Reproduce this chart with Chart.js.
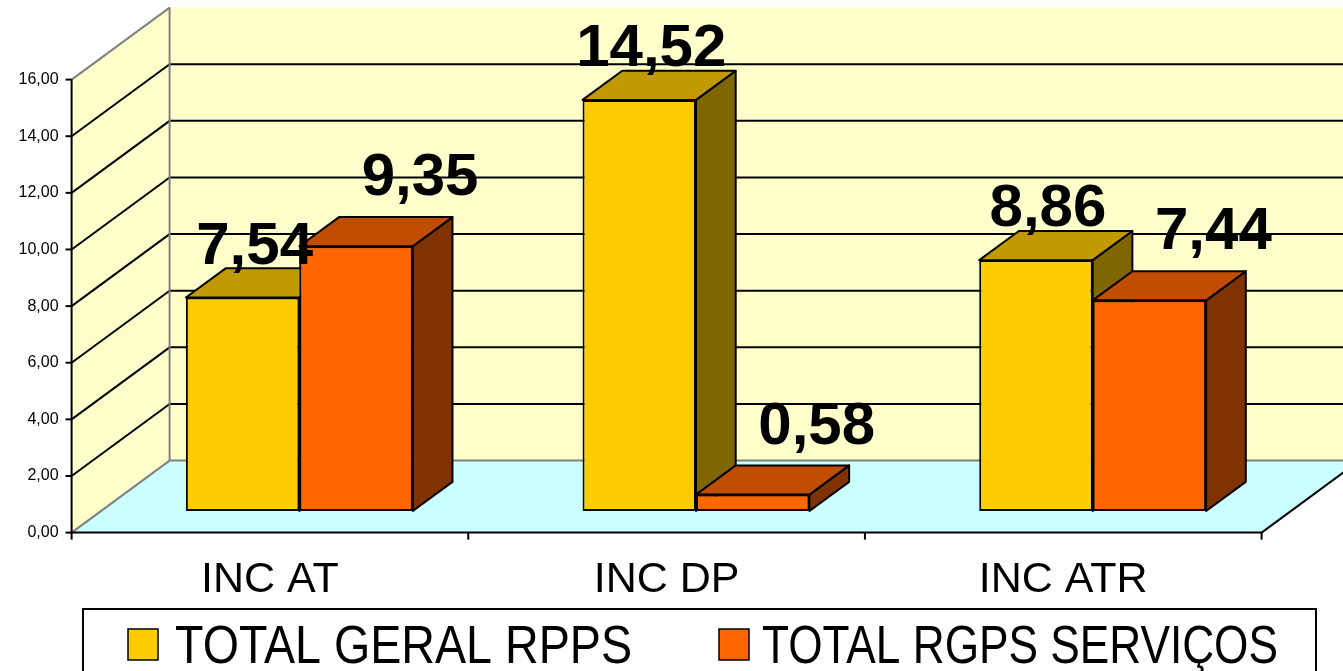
<!DOCTYPE html>
<html>
<head>
<meta charset="utf-8">
<script src="https://cdn.jsdelivr.net/npm/chart.js@4.4.1/dist/chart.umd.min.js"></script>
<style>
  html, body { margin: 0; padding: 0; background: #fff; overflow: hidden; }
</style>
</head>
<body>
<canvas id="chart" width="1343" height="671"></canvas>
<script>
const categories = ["INC AT", "INC DP", "INC ATR"];
const seriesNames = ["TOTAL GERAL RPPS", "TOTAL RGPS SERVIÇOS"];
const rppsValues = [7.54, 14.52, 8.86];
const rgpsValues = [9.35, 0.58, 7.44];
const yTicks = [0, 2, 4, 6, 8, 10, 12, 14, 16];

// 3d look: full depth vector, bars sit at depth 0.3 .. 0.705
const DX = 98, DY = -72;
const BAR_DEPTH = 0.3, BAR_THICK = 0.405;
const FONT = '"Liberation Sans", Arial, sans-serif';

const faces = [
  { front: "#FFCC00", top: "#C09A00", side: "#806600", lx: 12, ly: -34 },
  { front: "#FF6600", top: "#C04D00", side: "#803300", lx: 64, ly: -51 },
];

function fmt(v) {
  return v.toFixed(2).replace(".", ",");
}

function poly(ctx, pts, fill, stroke, lw) {
  ctx.beginPath();
  ctx.moveTo(pts[0][0], pts[0][1]);
  for (let i = 1; i < pts.length; i++) ctx.lineTo(pts[i][0], pts[i][1]);
  ctx.closePath();
  if (fill) {
    ctx.fillStyle = fill;
    ctx.fill();
  }
  if (stroke) {
    ctx.strokeStyle = stroke;
    ctx.lineWidth = lw || 2;
    ctx.stroke();
  }
}

function line(ctx, x1, y1, x2, y2, color, lw) {
  ctx.beginPath();
  ctx.moveTo(x1, y1);
  ctx.lineTo(x2, y2);
  ctx.strokeStyle = color;
  ctx.lineWidth = lw;
  ctx.stroke();
}

function drawFaces(ctx, meta, f) {
  const ddx = BAR_THICK * DX, ddy = BAR_THICK * DY;
  ctx.save();
  ctx.lineJoin = "round";
  meta.data.forEach((el) => {
    const p = el.getProps(["x", "y", "base", "width"], true);
    const l = p.x - p.width / 2, r = p.x + p.width / 2;
    poly(ctx, [[r, p.y], [r + ddx, p.y + ddy], [r + ddx, p.base + ddy], [r, p.base]], f.side, "#000", 2);
    poly(ctx, [[l, p.y], [r, p.y], [r + ddx, p.y + ddy], [l + ddx, p.y + ddy]], f.top, "#000", 2);
  });
  ctx.restore();
}

const box3d = {
  id: "box3d",
  beforeDraw(chart) {
    const ctx = chart.ctx;
    ctx.save();
    ctx.fillStyle = "#fff";
    ctx.fillRect(0, 0, chart.width, chart.height);
    ctx.restore();
  },
  beforeDatasetsDraw(chart) {
    const ctx = chart.ctx;
    const xs = chart.scales.x, ys = chart.scales.y;
    // front plane and back plane offsets from the bar plane
    const fx = -BAR_DEPTH * DX, fy = -BAR_DEPTH * DY;
    const bx = (1 - BAR_DEPTH) * DX, by = (1 - BAR_DEPTH) * DY;
    const L = xs.left + fx, R = xs.right + fx;
    const y0 = ys.getPixelForValue(0) + fy;
    const yTop = ys.getPixelForValue(16) + fy;
    const BL = xs.left + bx, BR = xs.right + bx;
    const by0 = ys.getPixelForValue(0) + by;
    const byTop = ys.getPixelForValue(16) + by;

    ctx.save();
    ctx.lineJoin = "round";
    // back wall
    poly(ctx, [[BL, byTop], [BR, byTop], [BR, by0], [BL, by0]], "#FFFFCC");
    // left wall
    poly(ctx, [[L, yTop], [BL, byTop], [BL, by0], [L, y0]], "#FFFFCC");
    // floor
    poly(ctx, [[L, y0], [R, y0], [BR, by0], [BL, by0]], "#CCFFFF");

    // gridlines
    yTicks.forEach((v) => {
      if (v === 0 || v === 16) return;
      const yf = ys.getPixelForValue(v) + fy;
      const yb = ys.getPixelForValue(v) + by;
      line(ctx, L, yf, BL, yb, "#000", 2);
      line(ctx, BL, yb, BR, yb, "#000", 2);
    });

    // wall edges
    line(ctx, L, yTop, BL, byTop, "#808080", 2);
    line(ctx, BL, byTop, BL, by0, "#808080", 2);
    line(ctx, BL, by0, BR, by0, "#808080", 2);
    line(ctx, L, y0, BL, by0, "#808080", 2);
    line(ctx, R, y0, BR, by0, "#000", 2);

    // axes
    line(ctx, L, yTop, L, y0 + 1, "#000", 2);
    line(ctx, L, y0, R, y0, "#000", 2);

    ctx.fillStyle = "#000";
    ctx.font = "16px " + FONT;
    ctx.textAlign = "right";
    ctx.textBaseline = "middle";
    yTicks.forEach((v) => {
      const yf = ys.getPixelForValue(v) + fy;
      line(ctx, L - 6, yf, L, yf, "#000", 2);
      ctx.fillText(fmt(v), L - 13, yf);
    });

    const step = (xs.right - xs.left) / categories.length;
    for (let i = 0; i <= categories.length; i++) {
      const x = L + i * step;
      line(ctx, x, y0, x, y0 + 7, "#000", 2);
    }
    ctx.font = "43px " + FONT;
    ctx.textAlign = "center";
    ctx.textBaseline = "alphabetic";
    categories.forEach((c, i) => {
      ctx.fillText(c, xs.getPixelForValue(i) + fx, 592);
    });
    ctx.restore();
  },
  afterDatasetDraw(chart, args) {
    // yellow series: faces right after its fronts
    if (args.index === 0) drawFaces(chart.ctx, args.meta, faces[0]);
  },
  afterDatasetsDraw(chart) {
    // orange series goes on top of the yellow sides
    const ctx = chart.ctx;
    const meta = chart.getDatasetMeta(1);
    meta.data.forEach((el) => el.draw(ctx));
    drawFaces(ctx, meta, faces[1]);
  },
  afterDraw(chart) {
    const ctx = chart.ctx;
    ctx.save();
    // value labels
    ctx.fillStyle = "#000";
    ctx.font = "bold 60px " + FONT;
    ctx.textAlign = "center";
    ctx.textBaseline = "alphabetic";
    chart.data.datasets.forEach((ds, di) => {
      const meta = chart.getDatasetMeta(di);
      meta.data.forEach((el, i) => {
        ctx.fillText(fmt(ds.data[i]), el.x + faces[di].lx, el.y + faces[di].ly);
      });
    });

    // legend
    ctx.fillStyle = "#fff";
    ctx.fillRect(83, 609, 1233, 80);
    ctx.strokeStyle = "#000";
    ctx.lineWidth = 2;
    ctx.strokeRect(83, 609, 1233, 80);
    const items = [
      { x: 128, tx: 175, w: 457 },
      { x: 719, tx: 762, w: 516 },
    ];
    ctx.font = "53px " + FONT;
    ctx.textAlign = "left";
    items.forEach((it, i) => {
      ctx.fillStyle = faces[i].front;
      ctx.fillRect(it.x, 629, 30, 31);
      ctx.lineWidth = 1.5;
      ctx.strokeRect(it.x, 629, 30, 31);
      ctx.fillStyle = "#000";
      ctx.fillText(seriesNames[i], it.tx, 663, it.w);
    });
    ctx.restore();
  },
};

new Chart(document.getElementById("chart"), {
  type: "bar",
  data: {
    labels: categories,
    datasets: [
      {
        label: seriesNames[0],
        data: rppsValues,
        backgroundColor: faces[0].front,
        borderColor: "#000",
        borderWidth: 2,
        borderSkipped: false,
      },
      {
        label: seriesNames[1],
        data: rgpsValues,
        backgroundColor: faces[1].front,
        borderColor: "#000",
        borderWidth: 2,
        borderSkipped: false,
      },
    ],
  },
  options: {
    responsive: false,
    animation: false,
    devicePixelRatio: 1,
    layout: { padding: { left: 101, right: 52, top: 58, bottom: 160 } },
    categoryPercentage: 0.572,
    barPercentage: 1.0,
    plugins: {
      legend: { display: false },
      tooltip: { enabled: false },
    },
    scales: {
      x: { display: false, offset: true },
      y: { display: false, min: 0, max: 16 },
    },
  },
  plugins: [box3d],
});
</script>
</body>
</html>
